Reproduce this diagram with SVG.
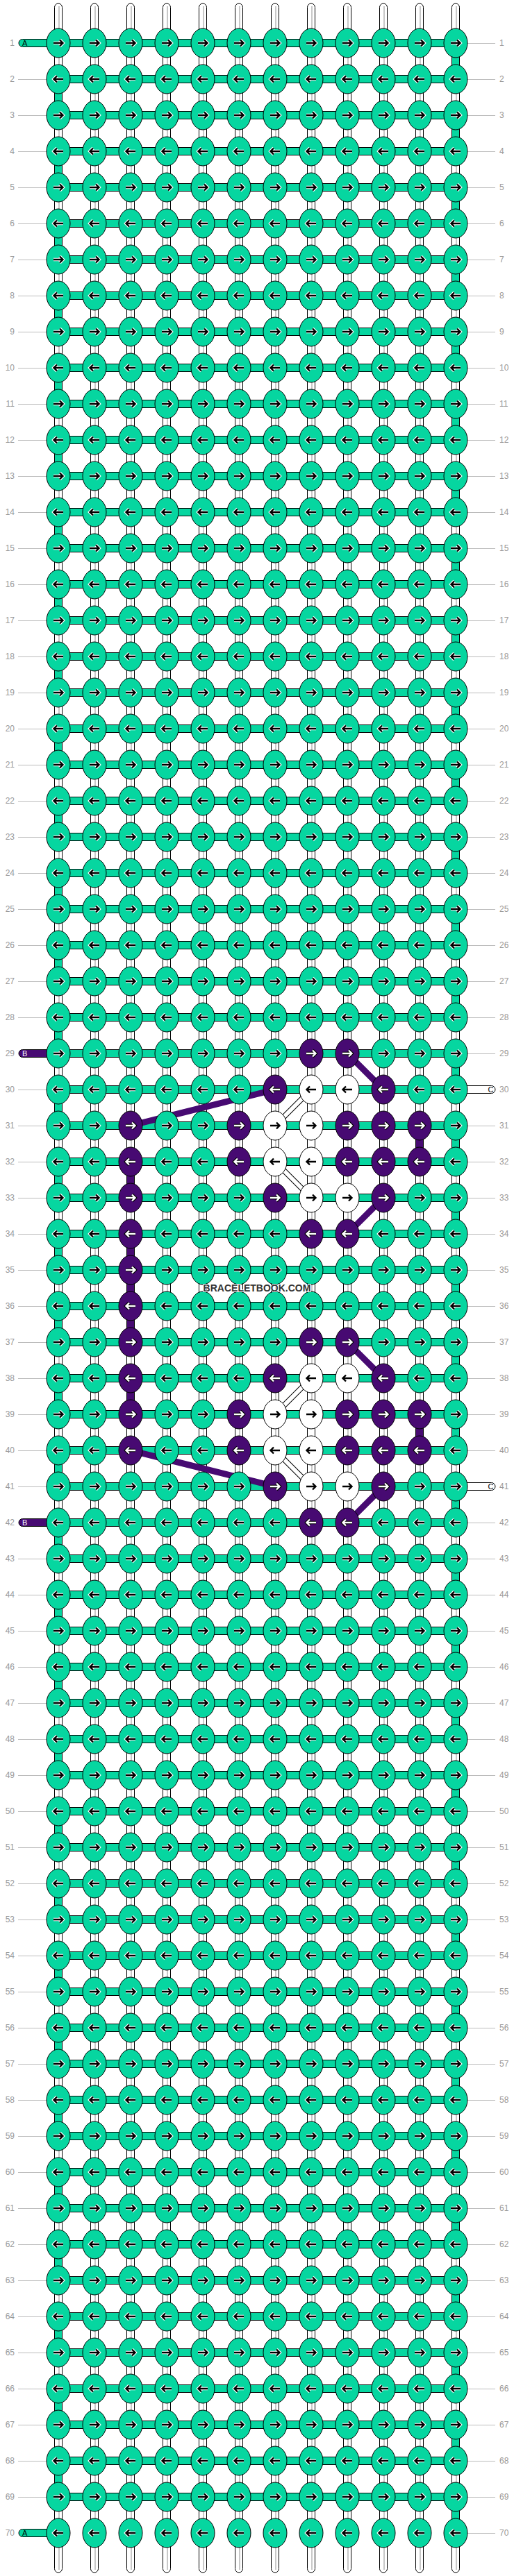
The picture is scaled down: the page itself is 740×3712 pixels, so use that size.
<svg xmlns="http://www.w3.org/2000/svg" width="740" height="3712" viewBox="0 0 740 3712">
<style>
.t{fill:#06d6a0;stroke:#000}
.p{fill:#470a72;stroke:#000}
.w{fill:#fff;stroke:#000}
.hw{fill:none;stroke:#fff;stroke-width:4.6}
.ab{fill:none;stroke:#000;stroke-width:2.4}
.hb{fill:none;stroke:#000;stroke-width:4.6}
.aw{fill:none;stroke:#fff;stroke-width:2.4}
.warp{fill:#fff;stroke:#000}
.wl{fill:none;stroke:#c8c8c8;stroke-width:2}
.ld{fill:none;stroke:#bbb;stroke-width:1}
.nl,.nr{font-family:"Liberation Sans",Arial,sans-serif;font-size:12px;fill:#999}
.nl{text-anchor:end}
.pl{font-family:"Liberation Sans",Arial,sans-serif;font-size:11px;fill:#000}
.plw{fill:#fff}
.dp{fill:none;stroke:#470a72;stroke-width:9}
.dwb{fill:none;stroke:#000;stroke-width:8}
.dww{fill:none;stroke:#fff;stroke-width:6}
.wm{font-family:"Liberation Sans",Arial,sans-serif;font-size:14px;font-weight:bold;fill:#333;stroke:#fff;stroke-width:2;paint-order:stroke;text-anchor:middle}
</style>
<defs>
<g id="tR"><ellipse class="t" rx="17" ry="21"/><path class="hw" d="M-7,0H6.5M2,-4.5L6.5,0L2,4.5"/><path class="ab" d="M-7,0H6.5M2,-4.5L6.5,0L2,4.5"/></g>
<g id="tL"><ellipse class="t" rx="17" ry="21"/><path class="hw" d="M7,0H-6.5M-2,-4.5L-6.5,0L-2,4.5"/><path class="ab" d="M7,0H-6.5M-2,-4.5L-6.5,0L-2,4.5"/></g>
<g id="pR"><ellipse class="p" rx="17" ry="21"/><path class="hb" d="M-7,0H6.5M2,-4.5L6.5,0L2,4.5"/><path class="aw" d="M-7,0H6.5M2,-4.5L6.5,0L2,4.5"/></g>
<g id="pL"><ellipse class="p" rx="17" ry="21"/><path class="hb" d="M7,0H-6.5M-2,-4.5L-6.5,0L-2,4.5"/><path class="aw" d="M7,0H-6.5M-2,-4.5L-6.5,0L-2,4.5"/></g>
<g id="wR"><ellipse class="w" rx="17" ry="21"/><path class="ab" d="M-7,0H6.5M2,-4.5L6.5,0L2,4.5"/></g>
<g id="wL"><ellipse class="w" rx="17" ry="21"/><path class="ab" d="M7,0H-6.5M-2,-4.5L-6.5,0L-2,4.5"/></g>
</defs>
<g id="connectors">
<g id="warps">
<rect class="warp" x="78.5" y="5" width="11" height="3702" rx="5.5"/>
<rect class="warp" x="130.5" y="5" width="11" height="3702" rx="5.5"/>
<rect class="warp" x="182.5" y="5" width="11" height="3702" rx="5.5"/>
<rect class="warp" x="234.5" y="5" width="11" height="3702" rx="5.5"/>
<rect class="warp" x="286.5" y="5" width="11" height="3702" rx="5.5"/>
<rect class="warp" x="338.5" y="5" width="11" height="3702" rx="5.5"/>
<rect class="warp" x="390.5" y="5" width="11" height="3702" rx="5.5"/>
<rect class="warp" x="442.5" y="5" width="11" height="3702" rx="5.5"/>
<rect class="warp" x="494.5" y="5" width="11" height="3702" rx="5.5"/>
<rect class="warp" x="546.5" y="5" width="11" height="3702" rx="5.5"/>
<rect class="warp" x="598.5" y="5" width="11" height="3702" rx="5.5"/>
<rect class="warp" x="650.5" y="5" width="11" height="3702" rx="5.5"/>
<path class="wl" d="M85,9V3703M137,9V3703M189,9V3703M241,9V3703M293,9V3703M345,9V3703M397,9V3703M449,9V3703M501,9V3703M553,9V3703M605,9V3703M657,9V3703"/>
</g>
<path id="bands" class="t" d="M84,56.5h572v11h-572zm0,52h572v11h-572zm0,52h572v11h-572zm0,52h572v11h-572zm0,52h572v11h-572zm0,52h572v11h-572zm0,52h572v11h-572zm0,52h572v11h-572zm0,52h572v11h-572zm0,52h572v11h-572zm0,52h572v11h-572zm0,52h572v11h-572zm0,52h572v11h-572zm0,52h572v11h-572zm0,52h572v11h-572zm0,52h572v11h-572zm0,52h572v11h-572zm0,52h572v11h-572zm0,52h572v11h-572zm0,52h572v11h-572zm0,52h572v11h-572zm0,52h572v11h-572zm0,52h572v11h-572zm0,52h572v11h-572zm0,52h572v11h-572zm0,52h572v11h-572zm0,52h572v11h-572zm0,52h572v11h-572zm0,52h572v11h-572zm0,52h572v11h-572zm0,52h572v11h-572zm0,52h572v11h-572zm0,52h572v11h-572zm0,52h572v11h-572zm0,52h572v11h-572zm0,52h572v11h-572zm0,52h572v11h-572zm0,52h572v11h-572zm0,52h572v11h-572zm0,52h572v11h-572zm0,52h572v11h-572zm0,52h572v11h-572zm0,52h572v11h-572zm0,52h572v11h-572zm0,52h572v11h-572zm0,52h572v11h-572zm0,52h572v11h-572zm0,52h572v11h-572zm0,52h572v11h-572zm0,52h572v11h-572zm0,52h572v11h-572zm0,52h572v11h-572zm0,52h572v11h-572zm0,52h572v11h-572zm0,52h572v11h-572zm0,52h572v11h-572zm0,52h572v11h-572zm0,52h572v11h-572zm0,52h572v11h-572zm0,52h572v11h-572zm0,52h572v11h-572zm0,52h572v11h-572zm0,52h572v11h-572zm0,52h572v11h-572zm0,52h572v11h-572zm0,52h572v11h-572zm0,52h572v11h-572zm0,52h572v11h-572zm0,52h572v11h-572z"/>
<path id="turns" class="t" d="M650.5,62h11v52h-11zm-572,52h11v52h-11zm572,52h11v52h-11zm-572,52h11v52h-11zm572,52h11v52h-11zm-572,52h11v52h-11zm572,52h11v52h-11zm-572,52h11v52h-11zm572,52h11v52h-11zm-572,52h11v52h-11zm572,52h11v52h-11zm-572,52h11v52h-11zm572,52h11v52h-11zm-572,52h11v52h-11zm572,52h11v52h-11zm-572,52h11v52h-11zm572,52h11v52h-11zm-572,52h11v52h-11zm572,52h11v52h-11zm-572,52h11v52h-11zm572,52h11v52h-11zm-572,52h11v52h-11zm572,52h11v52h-11zm-572,52h11v52h-11zm572,52h11v52h-11zm-572,52h11v52h-11zm572,52h11v52h-11zm-572,52h11v52h-11zm572,52h11v52h-11zm-572,52h11v52h-11zm572,52h11v52h-11zm-572,52h11v52h-11zm572,52h11v52h-11zm-572,52h11v52h-11zm572,52h11v52h-11zm-572,52h11v52h-11zm572,52h11v52h-11zm-572,52h11v52h-11zm572,52h11v52h-11zm-572,52h11v52h-11zm572,52h11v52h-11zm-572,52h11v52h-11zm572,52h11v52h-11zm-572,52h11v52h-11zm572,52h11v52h-11zm-572,52h11v52h-11zm572,52h11v52h-11zm-572,52h11v52h-11zm572,52h11v52h-11zm-572,52h11v52h-11zm572,52h11v52h-11zm-572,52h11v52h-11zm572,52h11v52h-11zm-572,52h11v52h-11zm572,52h11v52h-11zm-572,52h11v52h-11zm572,52h11v52h-11zm-572,52h11v52h-11zm572,52h11v52h-11zm-572,52h11v52h-11zm572,52h11v52h-11zm-572,52h11v52h-11zm572,52h11v52h-11zm-572,52h11v52h-11zm572,52h11v52h-11zm-572,52h11v52h-11zm572,52h11v52h-11zm-572,52h11v52h-11zm572,52h11v52h-11z"/>
<path id="turns-b" class="p" d="M598.5,1622h11v52h-11zM182.5,1674h11v52h-11zM182.5,1778h11v156h-11zM182.5,1986h11v52h-11zM598.5,2038h11v52h-11z"/>
<path id="turns-c" class="w" d="M442.5,1622h11v52h-11zM442.5,2038h11v52h-11z"/>
<path id="floats-b" class="dp" d="M500,1518L552,1570M396,1570L188,1622M552,1726L500,1778M500,1934L552,1986M188,2090L396,2142M552,2142L500,2194"/>
<g id="floats-c">
<path class="dwb" d="M448,1570L396,1622M396,1674L448,1726M448,1986L396,2038M396,2090L448,2142"/>
<path class="dww" d="M448,1570L396,1622M396,1674L448,1726M448,1986L396,2038M396,2090L448,2142"/>
</g>
</g>
<g id="rows">
<g id="row1" transform="translate(0,62)"><path class="ld" d="M673,0.5h40"/><text class="nl" x="21" y="4">1</text><text class="nr" x="719" y="4">1</text><path class="t" d="M72,-5.5H32.5a5.5,5.5 0 0 0 0,11H72z"/><text class="pl" x="32" y="4">A</text><use id="k1-1" href="#tR" x="84"/><use id="k1-2" href="#tR" x="136"/><use id="k1-3" href="#tR" x="188"/><use id="k1-4" href="#tR" x="240"/><use id="k1-5" href="#tR" x="292"/><use id="k1-6" href="#tR" x="344"/><use id="k1-7" href="#tR" x="396"/><use id="k1-8" href="#tR" x="448"/><use id="k1-9" href="#tR" x="500"/><use id="k1-10" href="#tR" x="552"/><use id="k1-11" href="#tR" x="604"/><use id="k1-12" href="#tR" x="656"/></g>
<g id="row2" transform="translate(0,114)"><path class="ld" d="M26,0.5h41M673,0.5h40"/><text class="nl" x="21" y="4">2</text><text class="nr" x="719" y="4">2</text><use id="k2-1" href="#tL" x="84"/><use id="k2-2" href="#tL" x="136"/><use id="k2-3" href="#tL" x="188"/><use id="k2-4" href="#tL" x="240"/><use id="k2-5" href="#tL" x="292"/><use id="k2-6" href="#tL" x="344"/><use id="k2-7" href="#tL" x="396"/><use id="k2-8" href="#tL" x="448"/><use id="k2-9" href="#tL" x="500"/><use id="k2-10" href="#tL" x="552"/><use id="k2-11" href="#tL" x="604"/><use id="k2-12" href="#tL" x="656"/></g>
<g id="row3" transform="translate(0,166)"><path class="ld" d="M26,0.5h41M673,0.5h40"/><text class="nl" x="21" y="4">3</text><text class="nr" x="719" y="4">3</text><use id="k3-1" href="#tR" x="84"/><use id="k3-2" href="#tR" x="136"/><use id="k3-3" href="#tR" x="188"/><use id="k3-4" href="#tR" x="240"/><use id="k3-5" href="#tR" x="292"/><use id="k3-6" href="#tR" x="344"/><use id="k3-7" href="#tR" x="396"/><use id="k3-8" href="#tR" x="448"/><use id="k3-9" href="#tR" x="500"/><use id="k3-10" href="#tR" x="552"/><use id="k3-11" href="#tR" x="604"/><use id="k3-12" href="#tR" x="656"/></g>
<g id="row4" transform="translate(0,218)"><path class="ld" d="M26,0.5h41M673,0.5h40"/><text class="nl" x="21" y="4">4</text><text class="nr" x="719" y="4">4</text><use id="k4-1" href="#tL" x="84"/><use id="k4-2" href="#tL" x="136"/><use id="k4-3" href="#tL" x="188"/><use id="k4-4" href="#tL" x="240"/><use id="k4-5" href="#tL" x="292"/><use id="k4-6" href="#tL" x="344"/><use id="k4-7" href="#tL" x="396"/><use id="k4-8" href="#tL" x="448"/><use id="k4-9" href="#tL" x="500"/><use id="k4-10" href="#tL" x="552"/><use id="k4-11" href="#tL" x="604"/><use id="k4-12" href="#tL" x="656"/></g>
<g id="row5" transform="translate(0,270)"><path class="ld" d="M26,0.5h41M673,0.5h40"/><text class="nl" x="21" y="4">5</text><text class="nr" x="719" y="4">5</text><use id="k5-1" href="#tR" x="84"/><use id="k5-2" href="#tR" x="136"/><use id="k5-3" href="#tR" x="188"/><use id="k5-4" href="#tR" x="240"/><use id="k5-5" href="#tR" x="292"/><use id="k5-6" href="#tR" x="344"/><use id="k5-7" href="#tR" x="396"/><use id="k5-8" href="#tR" x="448"/><use id="k5-9" href="#tR" x="500"/><use id="k5-10" href="#tR" x="552"/><use id="k5-11" href="#tR" x="604"/><use id="k5-12" href="#tR" x="656"/></g>
<g id="row6" transform="translate(0,322)"><path class="ld" d="M26,0.5h41M673,0.5h40"/><text class="nl" x="21" y="4">6</text><text class="nr" x="719" y="4">6</text><use id="k6-1" href="#tL" x="84"/><use id="k6-2" href="#tL" x="136"/><use id="k6-3" href="#tL" x="188"/><use id="k6-4" href="#tL" x="240"/><use id="k6-5" href="#tL" x="292"/><use id="k6-6" href="#tL" x="344"/><use id="k6-7" href="#tL" x="396"/><use id="k6-8" href="#tL" x="448"/><use id="k6-9" href="#tL" x="500"/><use id="k6-10" href="#tL" x="552"/><use id="k6-11" href="#tL" x="604"/><use id="k6-12" href="#tL" x="656"/></g>
<g id="row7" transform="translate(0,374)"><path class="ld" d="M26,0.5h41M673,0.5h40"/><text class="nl" x="21" y="4">7</text><text class="nr" x="719" y="4">7</text><use id="k7-1" href="#tR" x="84"/><use id="k7-2" href="#tR" x="136"/><use id="k7-3" href="#tR" x="188"/><use id="k7-4" href="#tR" x="240"/><use id="k7-5" href="#tR" x="292"/><use id="k7-6" href="#tR" x="344"/><use id="k7-7" href="#tR" x="396"/><use id="k7-8" href="#tR" x="448"/><use id="k7-9" href="#tR" x="500"/><use id="k7-10" href="#tR" x="552"/><use id="k7-11" href="#tR" x="604"/><use id="k7-12" href="#tR" x="656"/></g>
<g id="row8" transform="translate(0,426)"><path class="ld" d="M26,0.5h41M673,0.5h40"/><text class="nl" x="21" y="4">8</text><text class="nr" x="719" y="4">8</text><use id="k8-1" href="#tL" x="84"/><use id="k8-2" href="#tL" x="136"/><use id="k8-3" href="#tL" x="188"/><use id="k8-4" href="#tL" x="240"/><use id="k8-5" href="#tL" x="292"/><use id="k8-6" href="#tL" x="344"/><use id="k8-7" href="#tL" x="396"/><use id="k8-8" href="#tL" x="448"/><use id="k8-9" href="#tL" x="500"/><use id="k8-10" href="#tL" x="552"/><use id="k8-11" href="#tL" x="604"/><use id="k8-12" href="#tL" x="656"/></g>
<g id="row9" transform="translate(0,478)"><path class="ld" d="M26,0.5h41M673,0.5h40"/><text class="nl" x="21" y="4">9</text><text class="nr" x="719" y="4">9</text><use id="k9-1" href="#tR" x="84"/><use id="k9-2" href="#tR" x="136"/><use id="k9-3" href="#tR" x="188"/><use id="k9-4" href="#tR" x="240"/><use id="k9-5" href="#tR" x="292"/><use id="k9-6" href="#tR" x="344"/><use id="k9-7" href="#tR" x="396"/><use id="k9-8" href="#tR" x="448"/><use id="k9-9" href="#tR" x="500"/><use id="k9-10" href="#tR" x="552"/><use id="k9-11" href="#tR" x="604"/><use id="k9-12" href="#tR" x="656"/></g>
<g id="row10" transform="translate(0,530)"><path class="ld" d="M26,0.5h41M673,0.5h40"/><text class="nl" x="21" y="4">10</text><text class="nr" x="719" y="4">10</text><use id="k10-1" href="#tL" x="84"/><use id="k10-2" href="#tL" x="136"/><use id="k10-3" href="#tL" x="188"/><use id="k10-4" href="#tL" x="240"/><use id="k10-5" href="#tL" x="292"/><use id="k10-6" href="#tL" x="344"/><use id="k10-7" href="#tL" x="396"/><use id="k10-8" href="#tL" x="448"/><use id="k10-9" href="#tL" x="500"/><use id="k10-10" href="#tL" x="552"/><use id="k10-11" href="#tL" x="604"/><use id="k10-12" href="#tL" x="656"/></g>
<g id="row11" transform="translate(0,582)"><path class="ld" d="M26,0.5h41M673,0.5h40"/><text class="nl" x="21" y="4">11</text><text class="nr" x="719" y="4">11</text><use id="k11-1" href="#tR" x="84"/><use id="k11-2" href="#tR" x="136"/><use id="k11-3" href="#tR" x="188"/><use id="k11-4" href="#tR" x="240"/><use id="k11-5" href="#tR" x="292"/><use id="k11-6" href="#tR" x="344"/><use id="k11-7" href="#tR" x="396"/><use id="k11-8" href="#tR" x="448"/><use id="k11-9" href="#tR" x="500"/><use id="k11-10" href="#tR" x="552"/><use id="k11-11" href="#tR" x="604"/><use id="k11-12" href="#tR" x="656"/></g>
<g id="row12" transform="translate(0,634)"><path class="ld" d="M26,0.5h41M673,0.5h40"/><text class="nl" x="21" y="4">12</text><text class="nr" x="719" y="4">12</text><use id="k12-1" href="#tL" x="84"/><use id="k12-2" href="#tL" x="136"/><use id="k12-3" href="#tL" x="188"/><use id="k12-4" href="#tL" x="240"/><use id="k12-5" href="#tL" x="292"/><use id="k12-6" href="#tL" x="344"/><use id="k12-7" href="#tL" x="396"/><use id="k12-8" href="#tL" x="448"/><use id="k12-9" href="#tL" x="500"/><use id="k12-10" href="#tL" x="552"/><use id="k12-11" href="#tL" x="604"/><use id="k12-12" href="#tL" x="656"/></g>
<g id="row13" transform="translate(0,686)"><path class="ld" d="M26,0.5h41M673,0.5h40"/><text class="nl" x="21" y="4">13</text><text class="nr" x="719" y="4">13</text><use id="k13-1" href="#tR" x="84"/><use id="k13-2" href="#tR" x="136"/><use id="k13-3" href="#tR" x="188"/><use id="k13-4" href="#tR" x="240"/><use id="k13-5" href="#tR" x="292"/><use id="k13-6" href="#tR" x="344"/><use id="k13-7" href="#tR" x="396"/><use id="k13-8" href="#tR" x="448"/><use id="k13-9" href="#tR" x="500"/><use id="k13-10" href="#tR" x="552"/><use id="k13-11" href="#tR" x="604"/><use id="k13-12" href="#tR" x="656"/></g>
<g id="row14" transform="translate(0,738)"><path class="ld" d="M26,0.5h41M673,0.5h40"/><text class="nl" x="21" y="4">14</text><text class="nr" x="719" y="4">14</text><use id="k14-1" href="#tL" x="84"/><use id="k14-2" href="#tL" x="136"/><use id="k14-3" href="#tL" x="188"/><use id="k14-4" href="#tL" x="240"/><use id="k14-5" href="#tL" x="292"/><use id="k14-6" href="#tL" x="344"/><use id="k14-7" href="#tL" x="396"/><use id="k14-8" href="#tL" x="448"/><use id="k14-9" href="#tL" x="500"/><use id="k14-10" href="#tL" x="552"/><use id="k14-11" href="#tL" x="604"/><use id="k14-12" href="#tL" x="656"/></g>
<g id="row15" transform="translate(0,790)"><path class="ld" d="M26,0.5h41M673,0.5h40"/><text class="nl" x="21" y="4">15</text><text class="nr" x="719" y="4">15</text><use id="k15-1" href="#tR" x="84"/><use id="k15-2" href="#tR" x="136"/><use id="k15-3" href="#tR" x="188"/><use id="k15-4" href="#tR" x="240"/><use id="k15-5" href="#tR" x="292"/><use id="k15-6" href="#tR" x="344"/><use id="k15-7" href="#tR" x="396"/><use id="k15-8" href="#tR" x="448"/><use id="k15-9" href="#tR" x="500"/><use id="k15-10" href="#tR" x="552"/><use id="k15-11" href="#tR" x="604"/><use id="k15-12" href="#tR" x="656"/></g>
<g id="row16" transform="translate(0,842)"><path class="ld" d="M26,0.5h41M673,0.5h40"/><text class="nl" x="21" y="4">16</text><text class="nr" x="719" y="4">16</text><use id="k16-1" href="#tL" x="84"/><use id="k16-2" href="#tL" x="136"/><use id="k16-3" href="#tL" x="188"/><use id="k16-4" href="#tL" x="240"/><use id="k16-5" href="#tL" x="292"/><use id="k16-6" href="#tL" x="344"/><use id="k16-7" href="#tL" x="396"/><use id="k16-8" href="#tL" x="448"/><use id="k16-9" href="#tL" x="500"/><use id="k16-10" href="#tL" x="552"/><use id="k16-11" href="#tL" x="604"/><use id="k16-12" href="#tL" x="656"/></g>
<g id="row17" transform="translate(0,894)"><path class="ld" d="M26,0.5h41M673,0.5h40"/><text class="nl" x="21" y="4">17</text><text class="nr" x="719" y="4">17</text><use id="k17-1" href="#tR" x="84"/><use id="k17-2" href="#tR" x="136"/><use id="k17-3" href="#tR" x="188"/><use id="k17-4" href="#tR" x="240"/><use id="k17-5" href="#tR" x="292"/><use id="k17-6" href="#tR" x="344"/><use id="k17-7" href="#tR" x="396"/><use id="k17-8" href="#tR" x="448"/><use id="k17-9" href="#tR" x="500"/><use id="k17-10" href="#tR" x="552"/><use id="k17-11" href="#tR" x="604"/><use id="k17-12" href="#tR" x="656"/></g>
<g id="row18" transform="translate(0,946)"><path class="ld" d="M26,0.5h41M673,0.5h40"/><text class="nl" x="21" y="4">18</text><text class="nr" x="719" y="4">18</text><use id="k18-1" href="#tL" x="84"/><use id="k18-2" href="#tL" x="136"/><use id="k18-3" href="#tL" x="188"/><use id="k18-4" href="#tL" x="240"/><use id="k18-5" href="#tL" x="292"/><use id="k18-6" href="#tL" x="344"/><use id="k18-7" href="#tL" x="396"/><use id="k18-8" href="#tL" x="448"/><use id="k18-9" href="#tL" x="500"/><use id="k18-10" href="#tL" x="552"/><use id="k18-11" href="#tL" x="604"/><use id="k18-12" href="#tL" x="656"/></g>
<g id="row19" transform="translate(0,998)"><path class="ld" d="M26,0.5h41M673,0.5h40"/><text class="nl" x="21" y="4">19</text><text class="nr" x="719" y="4">19</text><use id="k19-1" href="#tR" x="84"/><use id="k19-2" href="#tR" x="136"/><use id="k19-3" href="#tR" x="188"/><use id="k19-4" href="#tR" x="240"/><use id="k19-5" href="#tR" x="292"/><use id="k19-6" href="#tR" x="344"/><use id="k19-7" href="#tR" x="396"/><use id="k19-8" href="#tR" x="448"/><use id="k19-9" href="#tR" x="500"/><use id="k19-10" href="#tR" x="552"/><use id="k19-11" href="#tR" x="604"/><use id="k19-12" href="#tR" x="656"/></g>
<g id="row20" transform="translate(0,1050)"><path class="ld" d="M26,0.5h41M673,0.5h40"/><text class="nl" x="21" y="4">20</text><text class="nr" x="719" y="4">20</text><use id="k20-1" href="#tL" x="84"/><use id="k20-2" href="#tL" x="136"/><use id="k20-3" href="#tL" x="188"/><use id="k20-4" href="#tL" x="240"/><use id="k20-5" href="#tL" x="292"/><use id="k20-6" href="#tL" x="344"/><use id="k20-7" href="#tL" x="396"/><use id="k20-8" href="#tL" x="448"/><use id="k20-9" href="#tL" x="500"/><use id="k20-10" href="#tL" x="552"/><use id="k20-11" href="#tL" x="604"/><use id="k20-12" href="#tL" x="656"/></g>
<g id="row21" transform="translate(0,1102)"><path class="ld" d="M26,0.5h41M673,0.5h40"/><text class="nl" x="21" y="4">21</text><text class="nr" x="719" y="4">21</text><use id="k21-1" href="#tR" x="84"/><use id="k21-2" href="#tR" x="136"/><use id="k21-3" href="#tR" x="188"/><use id="k21-4" href="#tR" x="240"/><use id="k21-5" href="#tR" x="292"/><use id="k21-6" href="#tR" x="344"/><use id="k21-7" href="#tR" x="396"/><use id="k21-8" href="#tR" x="448"/><use id="k21-9" href="#tR" x="500"/><use id="k21-10" href="#tR" x="552"/><use id="k21-11" href="#tR" x="604"/><use id="k21-12" href="#tR" x="656"/></g>
<g id="row22" transform="translate(0,1154)"><path class="ld" d="M26,0.5h41M673,0.5h40"/><text class="nl" x="21" y="4">22</text><text class="nr" x="719" y="4">22</text><use id="k22-1" href="#tL" x="84"/><use id="k22-2" href="#tL" x="136"/><use id="k22-3" href="#tL" x="188"/><use id="k22-4" href="#tL" x="240"/><use id="k22-5" href="#tL" x="292"/><use id="k22-6" href="#tL" x="344"/><use id="k22-7" href="#tL" x="396"/><use id="k22-8" href="#tL" x="448"/><use id="k22-9" href="#tL" x="500"/><use id="k22-10" href="#tL" x="552"/><use id="k22-11" href="#tL" x="604"/><use id="k22-12" href="#tL" x="656"/></g>
<g id="row23" transform="translate(0,1206)"><path class="ld" d="M26,0.5h41M673,0.5h40"/><text class="nl" x="21" y="4">23</text><text class="nr" x="719" y="4">23</text><use id="k23-1" href="#tR" x="84"/><use id="k23-2" href="#tR" x="136"/><use id="k23-3" href="#tR" x="188"/><use id="k23-4" href="#tR" x="240"/><use id="k23-5" href="#tR" x="292"/><use id="k23-6" href="#tR" x="344"/><use id="k23-7" href="#tR" x="396"/><use id="k23-8" href="#tR" x="448"/><use id="k23-9" href="#tR" x="500"/><use id="k23-10" href="#tR" x="552"/><use id="k23-11" href="#tR" x="604"/><use id="k23-12" href="#tR" x="656"/></g>
<g id="row24" transform="translate(0,1258)"><path class="ld" d="M26,0.5h41M673,0.5h40"/><text class="nl" x="21" y="4">24</text><text class="nr" x="719" y="4">24</text><use id="k24-1" href="#tL" x="84"/><use id="k24-2" href="#tL" x="136"/><use id="k24-3" href="#tL" x="188"/><use id="k24-4" href="#tL" x="240"/><use id="k24-5" href="#tL" x="292"/><use id="k24-6" href="#tL" x="344"/><use id="k24-7" href="#tL" x="396"/><use id="k24-8" href="#tL" x="448"/><use id="k24-9" href="#tL" x="500"/><use id="k24-10" href="#tL" x="552"/><use id="k24-11" href="#tL" x="604"/><use id="k24-12" href="#tL" x="656"/></g>
<g id="row25" transform="translate(0,1310)"><path class="ld" d="M26,0.5h41M673,0.5h40"/><text class="nl" x="21" y="4">25</text><text class="nr" x="719" y="4">25</text><use id="k25-1" href="#tR" x="84"/><use id="k25-2" href="#tR" x="136"/><use id="k25-3" href="#tR" x="188"/><use id="k25-4" href="#tR" x="240"/><use id="k25-5" href="#tR" x="292"/><use id="k25-6" href="#tR" x="344"/><use id="k25-7" href="#tR" x="396"/><use id="k25-8" href="#tR" x="448"/><use id="k25-9" href="#tR" x="500"/><use id="k25-10" href="#tR" x="552"/><use id="k25-11" href="#tR" x="604"/><use id="k25-12" href="#tR" x="656"/></g>
<g id="row26" transform="translate(0,1362)"><path class="ld" d="M26,0.5h41M673,0.5h40"/><text class="nl" x="21" y="4">26</text><text class="nr" x="719" y="4">26</text><use id="k26-1" href="#tL" x="84"/><use id="k26-2" href="#tL" x="136"/><use id="k26-3" href="#tL" x="188"/><use id="k26-4" href="#tL" x="240"/><use id="k26-5" href="#tL" x="292"/><use id="k26-6" href="#tL" x="344"/><use id="k26-7" href="#tL" x="396"/><use id="k26-8" href="#tL" x="448"/><use id="k26-9" href="#tL" x="500"/><use id="k26-10" href="#tL" x="552"/><use id="k26-11" href="#tL" x="604"/><use id="k26-12" href="#tL" x="656"/></g>
<g id="row27" transform="translate(0,1414)"><path class="ld" d="M26,0.5h41M673,0.5h40"/><text class="nl" x="21" y="4">27</text><text class="nr" x="719" y="4">27</text><use id="k27-1" href="#tR" x="84"/><use id="k27-2" href="#tR" x="136"/><use id="k27-3" href="#tR" x="188"/><use id="k27-4" href="#tR" x="240"/><use id="k27-5" href="#tR" x="292"/><use id="k27-6" href="#tR" x="344"/><use id="k27-7" href="#tR" x="396"/><use id="k27-8" href="#tR" x="448"/><use id="k27-9" href="#tR" x="500"/><use id="k27-10" href="#tR" x="552"/><use id="k27-11" href="#tR" x="604"/><use id="k27-12" href="#tR" x="656"/></g>
<g id="row28" transform="translate(0,1466)"><path class="ld" d="M26,0.5h41M673,0.5h40"/><text class="nl" x="21" y="4">28</text><text class="nr" x="719" y="4">28</text><use id="k28-1" href="#tL" x="84"/><use id="k28-2" href="#tL" x="136"/><use id="k28-3" href="#tL" x="188"/><use id="k28-4" href="#tL" x="240"/><use id="k28-5" href="#tL" x="292"/><use id="k28-6" href="#tL" x="344"/><use id="k28-7" href="#tL" x="396"/><use id="k28-8" href="#tL" x="448"/><use id="k28-9" href="#tL" x="500"/><use id="k28-10" href="#tL" x="552"/><use id="k28-11" href="#tL" x="604"/><use id="k28-12" href="#tL" x="656"/></g>
<g id="row29" transform="translate(0,1518)"><path class="ld" d="M673,0.5h40"/><text class="nl" x="21" y="4">29</text><text class="nr" x="719" y="4">29</text><path class="p" d="M72,-5.5H32.5a5.5,5.5 0 0 0 0,11H72z"/><text class="pl plw" x="32" y="4">B</text><use id="k29-1" href="#tR" x="84"/><use id="k29-2" href="#tR" x="136"/><use id="k29-3" href="#tR" x="188"/><use id="k29-4" href="#tR" x="240"/><use id="k29-5" href="#tR" x="292"/><use id="k29-6" href="#tR" x="344"/><use id="k29-7" href="#tR" x="396"/><use id="k29-8" href="#pR" x="448"/><use id="k29-9" href="#pR" x="500"/><use id="k29-10" href="#tR" x="552"/><use id="k29-11" href="#tR" x="604"/><use id="k29-12" href="#tR" x="656"/></g>
<g id="row30" transform="translate(0,1570)"><path class="ld" d="M26,0.5h41"/><text class="nl" x="21" y="4">30</text><text class="nr" x="719" y="4">30</text><path class="w" d="M640,-5.5H707.5a5.5,5.5 0 0 1 0,11H640z"/><text class="pl" x="702.5" y="4">C</text><use id="k30-1" href="#tL" x="84"/><use id="k30-2" href="#tL" x="136"/><use id="k30-3" href="#tL" x="188"/><use id="k30-4" href="#tL" x="240"/><use id="k30-5" href="#tL" x="292"/><use id="k30-6" href="#tL" x="344"/><use id="k30-7" href="#pL" x="396"/><use id="k30-8" href="#wL" x="448"/><use id="k30-9" href="#wL" x="500"/><use id="k30-10" href="#pL" x="552"/><use id="k30-11" href="#tL" x="604"/><use id="k30-12" href="#tL" x="656"/></g>
<g id="row31" transform="translate(0,1622)"><path class="ld" d="M26,0.5h41M673,0.5h40"/><text class="nl" x="21" y="4">31</text><text class="nr" x="719" y="4">31</text><use id="k31-1" href="#tR" x="84"/><use id="k31-2" href="#tR" x="136"/><use id="k31-3" href="#pR" x="188"/><use id="k31-4" href="#tR" x="240"/><use id="k31-5" href="#tR" x="292"/><use id="k31-6" href="#pR" x="344"/><use id="k31-7" href="#wR" x="396"/><use id="k31-8" href="#wR" x="448"/><use id="k31-9" href="#pR" x="500"/><use id="k31-10" href="#pR" x="552"/><use id="k31-11" href="#pR" x="604"/><use id="k31-12" href="#tR" x="656"/></g>
<g id="row32" transform="translate(0,1674)"><path class="ld" d="M26,0.5h41M673,0.5h40"/><text class="nl" x="21" y="4">32</text><text class="nr" x="719" y="4">32</text><use id="k32-1" href="#tL" x="84"/><use id="k32-2" href="#tL" x="136"/><use id="k32-3" href="#pL" x="188"/><use id="k32-4" href="#tL" x="240"/><use id="k32-5" href="#tL" x="292"/><use id="k32-6" href="#pL" x="344"/><use id="k32-7" href="#wL" x="396"/><use id="k32-8" href="#wL" x="448"/><use id="k32-9" href="#pL" x="500"/><use id="k32-10" href="#pL" x="552"/><use id="k32-11" href="#pL" x="604"/><use id="k32-12" href="#tL" x="656"/></g>
<g id="row33" transform="translate(0,1726)"><path class="ld" d="M26,0.5h41M673,0.5h40"/><text class="nl" x="21" y="4">33</text><text class="nr" x="719" y="4">33</text><use id="k33-1" href="#tR" x="84"/><use id="k33-2" href="#tR" x="136"/><use id="k33-3" href="#pR" x="188"/><use id="k33-4" href="#tR" x="240"/><use id="k33-5" href="#tR" x="292"/><use id="k33-6" href="#tR" x="344"/><use id="k33-7" href="#pR" x="396"/><use id="k33-8" href="#wR" x="448"/><use id="k33-9" href="#wR" x="500"/><use id="k33-10" href="#pR" x="552"/><use id="k33-11" href="#tR" x="604"/><use id="k33-12" href="#tR" x="656"/></g>
<g id="row34" transform="translate(0,1778)"><path class="ld" d="M26,0.5h41M673,0.5h40"/><text class="nl" x="21" y="4">34</text><text class="nr" x="719" y="4">34</text><use id="k34-1" href="#tL" x="84"/><use id="k34-2" href="#tL" x="136"/><use id="k34-3" href="#pL" x="188"/><use id="k34-4" href="#tL" x="240"/><use id="k34-5" href="#tL" x="292"/><use id="k34-6" href="#tL" x="344"/><use id="k34-7" href="#tL" x="396"/><use id="k34-8" href="#pL" x="448"/><use id="k34-9" href="#pL" x="500"/><use id="k34-10" href="#tL" x="552"/><use id="k34-11" href="#tL" x="604"/><use id="k34-12" href="#tL" x="656"/></g>
<g id="row35" transform="translate(0,1830)"><path class="ld" d="M26,0.5h41M673,0.5h40"/><text class="nl" x="21" y="4">35</text><text class="nr" x="719" y="4">35</text><use id="k35-1" href="#tR" x="84"/><use id="k35-2" href="#tR" x="136"/><use id="k35-3" href="#pR" x="188"/><use id="k35-4" href="#tR" x="240"/><use id="k35-5" href="#tR" x="292"/><use id="k35-6" href="#tR" x="344"/><use id="k35-7" href="#tR" x="396"/><use id="k35-8" href="#tR" x="448"/><use id="k35-9" href="#tR" x="500"/><use id="k35-10" href="#tR" x="552"/><use id="k35-11" href="#tR" x="604"/><use id="k35-12" href="#tR" x="656"/></g>
<g id="row36" transform="translate(0,1882)"><path class="ld" d="M26,0.5h41M673,0.5h40"/><text class="nl" x="21" y="4">36</text><text class="nr" x="719" y="4">36</text><use id="k36-1" href="#tL" x="84"/><use id="k36-2" href="#tL" x="136"/><use id="k36-3" href="#pL" x="188"/><use id="k36-4" href="#tL" x="240"/><use id="k36-5" href="#tL" x="292"/><use id="k36-6" href="#tL" x="344"/><use id="k36-7" href="#tL" x="396"/><use id="k36-8" href="#tL" x="448"/><use id="k36-9" href="#tL" x="500"/><use id="k36-10" href="#tL" x="552"/><use id="k36-11" href="#tL" x="604"/><use id="k36-12" href="#tL" x="656"/></g>
<g id="row37" transform="translate(0,1934)"><path class="ld" d="M26,0.5h41M673,0.5h40"/><text class="nl" x="21" y="4">37</text><text class="nr" x="719" y="4">37</text><use id="k37-1" href="#tR" x="84"/><use id="k37-2" href="#tR" x="136"/><use id="k37-3" href="#pR" x="188"/><use id="k37-4" href="#tR" x="240"/><use id="k37-5" href="#tR" x="292"/><use id="k37-6" href="#tR" x="344"/><use id="k37-7" href="#tR" x="396"/><use id="k37-8" href="#pR" x="448"/><use id="k37-9" href="#pR" x="500"/><use id="k37-10" href="#tR" x="552"/><use id="k37-11" href="#tR" x="604"/><use id="k37-12" href="#tR" x="656"/></g>
<g id="row38" transform="translate(0,1986)"><path class="ld" d="M26,0.5h41M673,0.5h40"/><text class="nl" x="21" y="4">38</text><text class="nr" x="719" y="4">38</text><use id="k38-1" href="#tL" x="84"/><use id="k38-2" href="#tL" x="136"/><use id="k38-3" href="#pL" x="188"/><use id="k38-4" href="#tL" x="240"/><use id="k38-5" href="#tL" x="292"/><use id="k38-6" href="#tL" x="344"/><use id="k38-7" href="#pL" x="396"/><use id="k38-8" href="#wL" x="448"/><use id="k38-9" href="#wL" x="500"/><use id="k38-10" href="#pL" x="552"/><use id="k38-11" href="#tL" x="604"/><use id="k38-12" href="#tL" x="656"/></g>
<g id="row39" transform="translate(0,2038)"><path class="ld" d="M26,0.5h41M673,0.5h40"/><text class="nl" x="21" y="4">39</text><text class="nr" x="719" y="4">39</text><use id="k39-1" href="#tR" x="84"/><use id="k39-2" href="#tR" x="136"/><use id="k39-3" href="#pR" x="188"/><use id="k39-4" href="#tR" x="240"/><use id="k39-5" href="#tR" x="292"/><use id="k39-6" href="#pR" x="344"/><use id="k39-7" href="#wR" x="396"/><use id="k39-8" href="#wR" x="448"/><use id="k39-9" href="#pR" x="500"/><use id="k39-10" href="#pR" x="552"/><use id="k39-11" href="#pR" x="604"/><use id="k39-12" href="#tR" x="656"/></g>
<g id="row40" transform="translate(0,2090)"><path class="ld" d="M26,0.5h41M673,0.5h40"/><text class="nl" x="21" y="4">40</text><text class="nr" x="719" y="4">40</text><use id="k40-1" href="#tL" x="84"/><use id="k40-2" href="#tL" x="136"/><use id="k40-3" href="#pL" x="188"/><use id="k40-4" href="#tL" x="240"/><use id="k40-5" href="#tL" x="292"/><use id="k40-6" href="#pL" x="344"/><use id="k40-7" href="#wL" x="396"/><use id="k40-8" href="#wL" x="448"/><use id="k40-9" href="#pL" x="500"/><use id="k40-10" href="#pL" x="552"/><use id="k40-11" href="#pL" x="604"/><use id="k40-12" href="#tL" x="656"/></g>
<g id="row41" transform="translate(0,2142)"><path class="ld" d="M26,0.5h41"/><text class="nl" x="21" y="4">41</text><text class="nr" x="719" y="4">41</text><path class="w" d="M640,-5.5H707.5a5.5,5.5 0 0 1 0,11H640z"/><text class="pl" x="702.5" y="4">C</text><use id="k41-1" href="#tR" x="84"/><use id="k41-2" href="#tR" x="136"/><use id="k41-3" href="#tR" x="188"/><use id="k41-4" href="#tR" x="240"/><use id="k41-5" href="#tR" x="292"/><use id="k41-6" href="#tR" x="344"/><use id="k41-7" href="#pR" x="396"/><use id="k41-8" href="#wR" x="448"/><use id="k41-9" href="#wR" x="500"/><use id="k41-10" href="#pR" x="552"/><use id="k41-11" href="#tR" x="604"/><use id="k41-12" href="#tR" x="656"/></g>
<g id="row42" transform="translate(0,2194)"><path class="ld" d="M673,0.5h40"/><text class="nl" x="21" y="4">42</text><text class="nr" x="719" y="4">42</text><path class="p" d="M72,-5.5H32.5a5.5,5.5 0 0 0 0,11H72z"/><text class="pl plw" x="32" y="4">B</text><use id="k42-1" href="#tL" x="84"/><use id="k42-2" href="#tL" x="136"/><use id="k42-3" href="#tL" x="188"/><use id="k42-4" href="#tL" x="240"/><use id="k42-5" href="#tL" x="292"/><use id="k42-6" href="#tL" x="344"/><use id="k42-7" href="#tL" x="396"/><use id="k42-8" href="#pL" x="448"/><use id="k42-9" href="#pL" x="500"/><use id="k42-10" href="#tL" x="552"/><use id="k42-11" href="#tL" x="604"/><use id="k42-12" href="#tL" x="656"/></g>
<g id="row43" transform="translate(0,2246)"><path class="ld" d="M26,0.5h41M673,0.5h40"/><text class="nl" x="21" y="4">43</text><text class="nr" x="719" y="4">43</text><use id="k43-1" href="#tR" x="84"/><use id="k43-2" href="#tR" x="136"/><use id="k43-3" href="#tR" x="188"/><use id="k43-4" href="#tR" x="240"/><use id="k43-5" href="#tR" x="292"/><use id="k43-6" href="#tR" x="344"/><use id="k43-7" href="#tR" x="396"/><use id="k43-8" href="#tR" x="448"/><use id="k43-9" href="#tR" x="500"/><use id="k43-10" href="#tR" x="552"/><use id="k43-11" href="#tR" x="604"/><use id="k43-12" href="#tR" x="656"/></g>
<g id="row44" transform="translate(0,2298)"><path class="ld" d="M26,0.5h41M673,0.5h40"/><text class="nl" x="21" y="4">44</text><text class="nr" x="719" y="4">44</text><use id="k44-1" href="#tL" x="84"/><use id="k44-2" href="#tL" x="136"/><use id="k44-3" href="#tL" x="188"/><use id="k44-4" href="#tL" x="240"/><use id="k44-5" href="#tL" x="292"/><use id="k44-6" href="#tL" x="344"/><use id="k44-7" href="#tL" x="396"/><use id="k44-8" href="#tL" x="448"/><use id="k44-9" href="#tL" x="500"/><use id="k44-10" href="#tL" x="552"/><use id="k44-11" href="#tL" x="604"/><use id="k44-12" href="#tL" x="656"/></g>
<g id="row45" transform="translate(0,2350)"><path class="ld" d="M26,0.5h41M673,0.5h40"/><text class="nl" x="21" y="4">45</text><text class="nr" x="719" y="4">45</text><use id="k45-1" href="#tR" x="84"/><use id="k45-2" href="#tR" x="136"/><use id="k45-3" href="#tR" x="188"/><use id="k45-4" href="#tR" x="240"/><use id="k45-5" href="#tR" x="292"/><use id="k45-6" href="#tR" x="344"/><use id="k45-7" href="#tR" x="396"/><use id="k45-8" href="#tR" x="448"/><use id="k45-9" href="#tR" x="500"/><use id="k45-10" href="#tR" x="552"/><use id="k45-11" href="#tR" x="604"/><use id="k45-12" href="#tR" x="656"/></g>
<g id="row46" transform="translate(0,2402)"><path class="ld" d="M26,0.5h41M673,0.5h40"/><text class="nl" x="21" y="4">46</text><text class="nr" x="719" y="4">46</text><use id="k46-1" href="#tL" x="84"/><use id="k46-2" href="#tL" x="136"/><use id="k46-3" href="#tL" x="188"/><use id="k46-4" href="#tL" x="240"/><use id="k46-5" href="#tL" x="292"/><use id="k46-6" href="#tL" x="344"/><use id="k46-7" href="#tL" x="396"/><use id="k46-8" href="#tL" x="448"/><use id="k46-9" href="#tL" x="500"/><use id="k46-10" href="#tL" x="552"/><use id="k46-11" href="#tL" x="604"/><use id="k46-12" href="#tL" x="656"/></g>
<g id="row47" transform="translate(0,2454)"><path class="ld" d="M26,0.5h41M673,0.5h40"/><text class="nl" x="21" y="4">47</text><text class="nr" x="719" y="4">47</text><use id="k47-1" href="#tR" x="84"/><use id="k47-2" href="#tR" x="136"/><use id="k47-3" href="#tR" x="188"/><use id="k47-4" href="#tR" x="240"/><use id="k47-5" href="#tR" x="292"/><use id="k47-6" href="#tR" x="344"/><use id="k47-7" href="#tR" x="396"/><use id="k47-8" href="#tR" x="448"/><use id="k47-9" href="#tR" x="500"/><use id="k47-10" href="#tR" x="552"/><use id="k47-11" href="#tR" x="604"/><use id="k47-12" href="#tR" x="656"/></g>
<g id="row48" transform="translate(0,2506)"><path class="ld" d="M26,0.5h41M673,0.5h40"/><text class="nl" x="21" y="4">48</text><text class="nr" x="719" y="4">48</text><use id="k48-1" href="#tL" x="84"/><use id="k48-2" href="#tL" x="136"/><use id="k48-3" href="#tL" x="188"/><use id="k48-4" href="#tL" x="240"/><use id="k48-5" href="#tL" x="292"/><use id="k48-6" href="#tL" x="344"/><use id="k48-7" href="#tL" x="396"/><use id="k48-8" href="#tL" x="448"/><use id="k48-9" href="#tL" x="500"/><use id="k48-10" href="#tL" x="552"/><use id="k48-11" href="#tL" x="604"/><use id="k48-12" href="#tL" x="656"/></g>
<g id="row49" transform="translate(0,2558)"><path class="ld" d="M26,0.5h41M673,0.5h40"/><text class="nl" x="21" y="4">49</text><text class="nr" x="719" y="4">49</text><use id="k49-1" href="#tR" x="84"/><use id="k49-2" href="#tR" x="136"/><use id="k49-3" href="#tR" x="188"/><use id="k49-4" href="#tR" x="240"/><use id="k49-5" href="#tR" x="292"/><use id="k49-6" href="#tR" x="344"/><use id="k49-7" href="#tR" x="396"/><use id="k49-8" href="#tR" x="448"/><use id="k49-9" href="#tR" x="500"/><use id="k49-10" href="#tR" x="552"/><use id="k49-11" href="#tR" x="604"/><use id="k49-12" href="#tR" x="656"/></g>
<g id="row50" transform="translate(0,2610)"><path class="ld" d="M26,0.5h41M673,0.5h40"/><text class="nl" x="21" y="4">50</text><text class="nr" x="719" y="4">50</text><use id="k50-1" href="#tL" x="84"/><use id="k50-2" href="#tL" x="136"/><use id="k50-3" href="#tL" x="188"/><use id="k50-4" href="#tL" x="240"/><use id="k50-5" href="#tL" x="292"/><use id="k50-6" href="#tL" x="344"/><use id="k50-7" href="#tL" x="396"/><use id="k50-8" href="#tL" x="448"/><use id="k50-9" href="#tL" x="500"/><use id="k50-10" href="#tL" x="552"/><use id="k50-11" href="#tL" x="604"/><use id="k50-12" href="#tL" x="656"/></g>
<g id="row51" transform="translate(0,2662)"><path class="ld" d="M26,0.5h41M673,0.5h40"/><text class="nl" x="21" y="4">51</text><text class="nr" x="719" y="4">51</text><use id="k51-1" href="#tR" x="84"/><use id="k51-2" href="#tR" x="136"/><use id="k51-3" href="#tR" x="188"/><use id="k51-4" href="#tR" x="240"/><use id="k51-5" href="#tR" x="292"/><use id="k51-6" href="#tR" x="344"/><use id="k51-7" href="#tR" x="396"/><use id="k51-8" href="#tR" x="448"/><use id="k51-9" href="#tR" x="500"/><use id="k51-10" href="#tR" x="552"/><use id="k51-11" href="#tR" x="604"/><use id="k51-12" href="#tR" x="656"/></g>
<g id="row52" transform="translate(0,2714)"><path class="ld" d="M26,0.5h41M673,0.5h40"/><text class="nl" x="21" y="4">52</text><text class="nr" x="719" y="4">52</text><use id="k52-1" href="#tL" x="84"/><use id="k52-2" href="#tL" x="136"/><use id="k52-3" href="#tL" x="188"/><use id="k52-4" href="#tL" x="240"/><use id="k52-5" href="#tL" x="292"/><use id="k52-6" href="#tL" x="344"/><use id="k52-7" href="#tL" x="396"/><use id="k52-8" href="#tL" x="448"/><use id="k52-9" href="#tL" x="500"/><use id="k52-10" href="#tL" x="552"/><use id="k52-11" href="#tL" x="604"/><use id="k52-12" href="#tL" x="656"/></g>
<g id="row53" transform="translate(0,2766)"><path class="ld" d="M26,0.5h41M673,0.5h40"/><text class="nl" x="21" y="4">53</text><text class="nr" x="719" y="4">53</text><use id="k53-1" href="#tR" x="84"/><use id="k53-2" href="#tR" x="136"/><use id="k53-3" href="#tR" x="188"/><use id="k53-4" href="#tR" x="240"/><use id="k53-5" href="#tR" x="292"/><use id="k53-6" href="#tR" x="344"/><use id="k53-7" href="#tR" x="396"/><use id="k53-8" href="#tR" x="448"/><use id="k53-9" href="#tR" x="500"/><use id="k53-10" href="#tR" x="552"/><use id="k53-11" href="#tR" x="604"/><use id="k53-12" href="#tR" x="656"/></g>
<g id="row54" transform="translate(0,2818)"><path class="ld" d="M26,0.5h41M673,0.5h40"/><text class="nl" x="21" y="4">54</text><text class="nr" x="719" y="4">54</text><use id="k54-1" href="#tL" x="84"/><use id="k54-2" href="#tL" x="136"/><use id="k54-3" href="#tL" x="188"/><use id="k54-4" href="#tL" x="240"/><use id="k54-5" href="#tL" x="292"/><use id="k54-6" href="#tL" x="344"/><use id="k54-7" href="#tL" x="396"/><use id="k54-8" href="#tL" x="448"/><use id="k54-9" href="#tL" x="500"/><use id="k54-10" href="#tL" x="552"/><use id="k54-11" href="#tL" x="604"/><use id="k54-12" href="#tL" x="656"/></g>
<g id="row55" transform="translate(0,2870)"><path class="ld" d="M26,0.5h41M673,0.5h40"/><text class="nl" x="21" y="4">55</text><text class="nr" x="719" y="4">55</text><use id="k55-1" href="#tR" x="84"/><use id="k55-2" href="#tR" x="136"/><use id="k55-3" href="#tR" x="188"/><use id="k55-4" href="#tR" x="240"/><use id="k55-5" href="#tR" x="292"/><use id="k55-6" href="#tR" x="344"/><use id="k55-7" href="#tR" x="396"/><use id="k55-8" href="#tR" x="448"/><use id="k55-9" href="#tR" x="500"/><use id="k55-10" href="#tR" x="552"/><use id="k55-11" href="#tR" x="604"/><use id="k55-12" href="#tR" x="656"/></g>
<g id="row56" transform="translate(0,2922)"><path class="ld" d="M26,0.5h41M673,0.5h40"/><text class="nl" x="21" y="4">56</text><text class="nr" x="719" y="4">56</text><use id="k56-1" href="#tL" x="84"/><use id="k56-2" href="#tL" x="136"/><use id="k56-3" href="#tL" x="188"/><use id="k56-4" href="#tL" x="240"/><use id="k56-5" href="#tL" x="292"/><use id="k56-6" href="#tL" x="344"/><use id="k56-7" href="#tL" x="396"/><use id="k56-8" href="#tL" x="448"/><use id="k56-9" href="#tL" x="500"/><use id="k56-10" href="#tL" x="552"/><use id="k56-11" href="#tL" x="604"/><use id="k56-12" href="#tL" x="656"/></g>
<g id="row57" transform="translate(0,2974)"><path class="ld" d="M26,0.5h41M673,0.5h40"/><text class="nl" x="21" y="4">57</text><text class="nr" x="719" y="4">57</text><use id="k57-1" href="#tR" x="84"/><use id="k57-2" href="#tR" x="136"/><use id="k57-3" href="#tR" x="188"/><use id="k57-4" href="#tR" x="240"/><use id="k57-5" href="#tR" x="292"/><use id="k57-6" href="#tR" x="344"/><use id="k57-7" href="#tR" x="396"/><use id="k57-8" href="#tR" x="448"/><use id="k57-9" href="#tR" x="500"/><use id="k57-10" href="#tR" x="552"/><use id="k57-11" href="#tR" x="604"/><use id="k57-12" href="#tR" x="656"/></g>
<g id="row58" transform="translate(0,3026)"><path class="ld" d="M26,0.5h41M673,0.5h40"/><text class="nl" x="21" y="4">58</text><text class="nr" x="719" y="4">58</text><use id="k58-1" href="#tL" x="84"/><use id="k58-2" href="#tL" x="136"/><use id="k58-3" href="#tL" x="188"/><use id="k58-4" href="#tL" x="240"/><use id="k58-5" href="#tL" x="292"/><use id="k58-6" href="#tL" x="344"/><use id="k58-7" href="#tL" x="396"/><use id="k58-8" href="#tL" x="448"/><use id="k58-9" href="#tL" x="500"/><use id="k58-10" href="#tL" x="552"/><use id="k58-11" href="#tL" x="604"/><use id="k58-12" href="#tL" x="656"/></g>
<g id="row59" transform="translate(0,3078)"><path class="ld" d="M26,0.5h41M673,0.5h40"/><text class="nl" x="21" y="4">59</text><text class="nr" x="719" y="4">59</text><use id="k59-1" href="#tR" x="84"/><use id="k59-2" href="#tR" x="136"/><use id="k59-3" href="#tR" x="188"/><use id="k59-4" href="#tR" x="240"/><use id="k59-5" href="#tR" x="292"/><use id="k59-6" href="#tR" x="344"/><use id="k59-7" href="#tR" x="396"/><use id="k59-8" href="#tR" x="448"/><use id="k59-9" href="#tR" x="500"/><use id="k59-10" href="#tR" x="552"/><use id="k59-11" href="#tR" x="604"/><use id="k59-12" href="#tR" x="656"/></g>
<g id="row60" transform="translate(0,3130)"><path class="ld" d="M26,0.5h41M673,0.5h40"/><text class="nl" x="21" y="4">60</text><text class="nr" x="719" y="4">60</text><use id="k60-1" href="#tL" x="84"/><use id="k60-2" href="#tL" x="136"/><use id="k60-3" href="#tL" x="188"/><use id="k60-4" href="#tL" x="240"/><use id="k60-5" href="#tL" x="292"/><use id="k60-6" href="#tL" x="344"/><use id="k60-7" href="#tL" x="396"/><use id="k60-8" href="#tL" x="448"/><use id="k60-9" href="#tL" x="500"/><use id="k60-10" href="#tL" x="552"/><use id="k60-11" href="#tL" x="604"/><use id="k60-12" href="#tL" x="656"/></g>
<g id="row61" transform="translate(0,3182)"><path class="ld" d="M26,0.5h41M673,0.5h40"/><text class="nl" x="21" y="4">61</text><text class="nr" x="719" y="4">61</text><use id="k61-1" href="#tR" x="84"/><use id="k61-2" href="#tR" x="136"/><use id="k61-3" href="#tR" x="188"/><use id="k61-4" href="#tR" x="240"/><use id="k61-5" href="#tR" x="292"/><use id="k61-6" href="#tR" x="344"/><use id="k61-7" href="#tR" x="396"/><use id="k61-8" href="#tR" x="448"/><use id="k61-9" href="#tR" x="500"/><use id="k61-10" href="#tR" x="552"/><use id="k61-11" href="#tR" x="604"/><use id="k61-12" href="#tR" x="656"/></g>
<g id="row62" transform="translate(0,3234)"><path class="ld" d="M26,0.5h41M673,0.5h40"/><text class="nl" x="21" y="4">62</text><text class="nr" x="719" y="4">62</text><use id="k62-1" href="#tL" x="84"/><use id="k62-2" href="#tL" x="136"/><use id="k62-3" href="#tL" x="188"/><use id="k62-4" href="#tL" x="240"/><use id="k62-5" href="#tL" x="292"/><use id="k62-6" href="#tL" x="344"/><use id="k62-7" href="#tL" x="396"/><use id="k62-8" href="#tL" x="448"/><use id="k62-9" href="#tL" x="500"/><use id="k62-10" href="#tL" x="552"/><use id="k62-11" href="#tL" x="604"/><use id="k62-12" href="#tL" x="656"/></g>
<g id="row63" transform="translate(0,3286)"><path class="ld" d="M26,0.5h41M673,0.5h40"/><text class="nl" x="21" y="4">63</text><text class="nr" x="719" y="4">63</text><use id="k63-1" href="#tR" x="84"/><use id="k63-2" href="#tR" x="136"/><use id="k63-3" href="#tR" x="188"/><use id="k63-4" href="#tR" x="240"/><use id="k63-5" href="#tR" x="292"/><use id="k63-6" href="#tR" x="344"/><use id="k63-7" href="#tR" x="396"/><use id="k63-8" href="#tR" x="448"/><use id="k63-9" href="#tR" x="500"/><use id="k63-10" href="#tR" x="552"/><use id="k63-11" href="#tR" x="604"/><use id="k63-12" href="#tR" x="656"/></g>
<g id="row64" transform="translate(0,3338)"><path class="ld" d="M26,0.5h41M673,0.5h40"/><text class="nl" x="21" y="4">64</text><text class="nr" x="719" y="4">64</text><use id="k64-1" href="#tL" x="84"/><use id="k64-2" href="#tL" x="136"/><use id="k64-3" href="#tL" x="188"/><use id="k64-4" href="#tL" x="240"/><use id="k64-5" href="#tL" x="292"/><use id="k64-6" href="#tL" x="344"/><use id="k64-7" href="#tL" x="396"/><use id="k64-8" href="#tL" x="448"/><use id="k64-9" href="#tL" x="500"/><use id="k64-10" href="#tL" x="552"/><use id="k64-11" href="#tL" x="604"/><use id="k64-12" href="#tL" x="656"/></g>
<g id="row65" transform="translate(0,3390)"><path class="ld" d="M26,0.5h41M673,0.5h40"/><text class="nl" x="21" y="4">65</text><text class="nr" x="719" y="4">65</text><use id="k65-1" href="#tR" x="84"/><use id="k65-2" href="#tR" x="136"/><use id="k65-3" href="#tR" x="188"/><use id="k65-4" href="#tR" x="240"/><use id="k65-5" href="#tR" x="292"/><use id="k65-6" href="#tR" x="344"/><use id="k65-7" href="#tR" x="396"/><use id="k65-8" href="#tR" x="448"/><use id="k65-9" href="#tR" x="500"/><use id="k65-10" href="#tR" x="552"/><use id="k65-11" href="#tR" x="604"/><use id="k65-12" href="#tR" x="656"/></g>
<g id="row66" transform="translate(0,3442)"><path class="ld" d="M26,0.5h41M673,0.5h40"/><text class="nl" x="21" y="4">66</text><text class="nr" x="719" y="4">66</text><use id="k66-1" href="#tL" x="84"/><use id="k66-2" href="#tL" x="136"/><use id="k66-3" href="#tL" x="188"/><use id="k66-4" href="#tL" x="240"/><use id="k66-5" href="#tL" x="292"/><use id="k66-6" href="#tL" x="344"/><use id="k66-7" href="#tL" x="396"/><use id="k66-8" href="#tL" x="448"/><use id="k66-9" href="#tL" x="500"/><use id="k66-10" href="#tL" x="552"/><use id="k66-11" href="#tL" x="604"/><use id="k66-12" href="#tL" x="656"/></g>
<g id="row67" transform="translate(0,3494)"><path class="ld" d="M26,0.5h41M673,0.5h40"/><text class="nl" x="21" y="4">67</text><text class="nr" x="719" y="4">67</text><use id="k67-1" href="#tR" x="84"/><use id="k67-2" href="#tR" x="136"/><use id="k67-3" href="#tR" x="188"/><use id="k67-4" href="#tR" x="240"/><use id="k67-5" href="#tR" x="292"/><use id="k67-6" href="#tR" x="344"/><use id="k67-7" href="#tR" x="396"/><use id="k67-8" href="#tR" x="448"/><use id="k67-9" href="#tR" x="500"/><use id="k67-10" href="#tR" x="552"/><use id="k67-11" href="#tR" x="604"/><use id="k67-12" href="#tR" x="656"/></g>
<g id="row68" transform="translate(0,3546)"><path class="ld" d="M26,0.5h41M673,0.5h40"/><text class="nl" x="21" y="4">68</text><text class="nr" x="719" y="4">68</text><use id="k68-1" href="#tL" x="84"/><use id="k68-2" href="#tL" x="136"/><use id="k68-3" href="#tL" x="188"/><use id="k68-4" href="#tL" x="240"/><use id="k68-5" href="#tL" x="292"/><use id="k68-6" href="#tL" x="344"/><use id="k68-7" href="#tL" x="396"/><use id="k68-8" href="#tL" x="448"/><use id="k68-9" href="#tL" x="500"/><use id="k68-10" href="#tL" x="552"/><use id="k68-11" href="#tL" x="604"/><use id="k68-12" href="#tL" x="656"/></g>
<g id="row69" transform="translate(0,3598)"><path class="ld" d="M26,0.5h41M673,0.5h40"/><text class="nl" x="21" y="4">69</text><text class="nr" x="719" y="4">69</text><use id="k69-1" href="#tR" x="84"/><use id="k69-2" href="#tR" x="136"/><use id="k69-3" href="#tR" x="188"/><use id="k69-4" href="#tR" x="240"/><use id="k69-5" href="#tR" x="292"/><use id="k69-6" href="#tR" x="344"/><use id="k69-7" href="#tR" x="396"/><use id="k69-8" href="#tR" x="448"/><use id="k69-9" href="#tR" x="500"/><use id="k69-10" href="#tR" x="552"/><use id="k69-11" href="#tR" x="604"/><use id="k69-12" href="#tR" x="656"/></g>
<g id="row70" transform="translate(0,3650)"><path class="ld" d="M673,0.5h40"/><text class="nl" x="21" y="4">70</text><text class="nr" x="719" y="4">70</text><path class="t" d="M72,-5.5H32.5a5.5,5.5 0 0 0 0,11H72z"/><text class="pl" x="32" y="4">A</text><use id="k70-1" href="#tL" x="84"/><use id="k70-2" href="#tL" x="136"/><use id="k70-3" href="#tL" x="188"/><use id="k70-4" href="#tL" x="240"/><use id="k70-5" href="#tL" x="292"/><use id="k70-6" href="#tL" x="344"/><use id="k70-7" href="#tL" x="396"/><use id="k70-8" href="#tL" x="448"/><use id="k70-9" href="#tL" x="500"/><use id="k70-10" href="#tL" x="552"/><use id="k70-11" href="#tL" x="604"/><use id="k70-12" href="#tL" x="656"/></g>
</g>
<text id="watermark" class="wm" x="370" y="1861">BRACELETBOOK.COM</text>
</svg>
